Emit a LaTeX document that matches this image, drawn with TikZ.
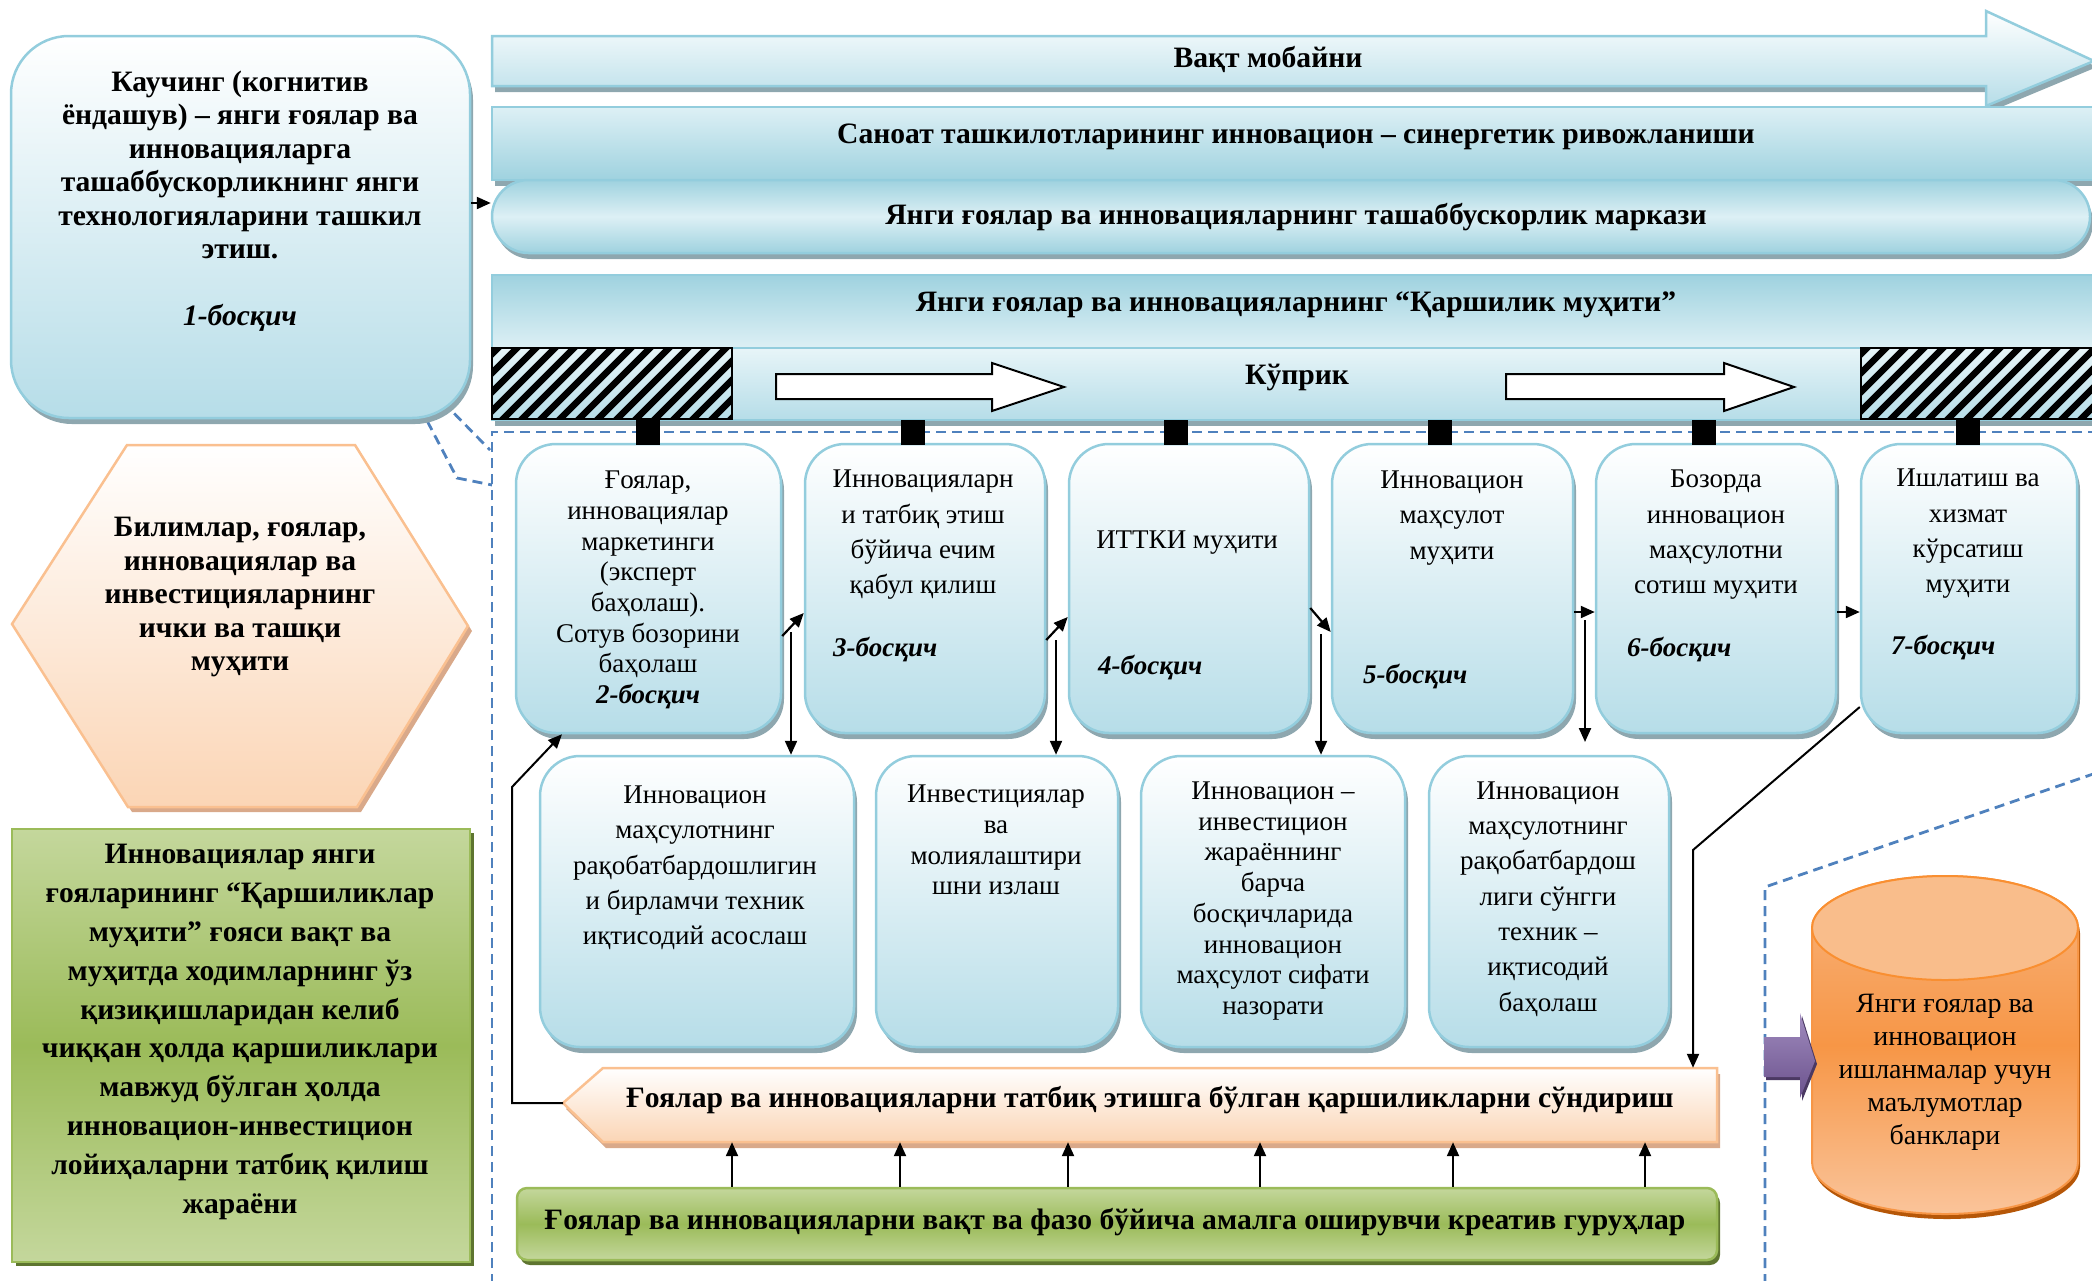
\documentclass[tikz,border=0pt]{standalone}
\usepackage{fontspec}
\setmainfont{Liberation Serif}
\usetikzlibrary{arrows.meta,shadows,shapes.misc,calc}
\definecolor{bdr}{HTML}{93CDDD}
\definecolor{bbot}{HTML}{B6DDE8}
\definecolor{bdark}{HTML}{9FD2DF}
\definecolor{blite}{HTML}{DDF0F5}
\definecolor{shd}{HTML}{8EA7AF}
\definecolor{dashb}{HTML}{4F81BD}
\definecolor{orb}{HTML}{FAC090}
\definecolor{orl}{HTML}{FBD5B5}
\definecolor{orshd}{HTML}{D9A98A}
\definecolor{grl}{HTML}{C4D79C}
\definecolor{grm}{HTML}{9BBB59}
\definecolor{grd}{HTML}{5E7530}
\definecolor{cyltop}{HTML}{F9BD8B}
\definecolor{cylmid}{HTML}{F79646}
\definecolor{cylhi}{HTML}{F8B47E}
\definecolor{cyllo}{HTML}{FAC49A}
\definecolor{cylshd}{HTML}{B65708}
\definecolor{purl}{HTML}{A08BBE}
\definecolor{purd}{HTML}{6B528D}
\newcommand\FBold{\fontsize{29.6}{33.5}\selectfont\bfseries}
\newcommand\FBoldW{\fontsize{29.6}{38.8}\selectfont\bfseries}
\newcommand\FRegA{\fontsize{27}{30.7}\selectfont}
\newcommand\FRegB{\fontsize{27}{35.3}\selectfont}
\newcommand\FStage{\fontsize{27}{30}\selectfont\bfseries\itshape}
\newcommand\FCyl{\fontsize{28}{33}\selectfont}
\begin{document}
\begin{tikzpicture}[x=1pt,y=-1pt,
  bshadow/.style={drop shadow={shadow xshift=3pt,shadow yshift=-6pt,fill=shd,opacity=1}},
  stagebox/.style={draw=bdr,line width=2.5pt,rounded corners=40pt,top color=white,bottom color=bbot,bshadow,inner sep=0pt},
  band/.style={draw=bdr,line width=2.5pt,inner sep=0pt},
  arr/.style={line width=2.2pt,-{Triangle[length=14pt,width=12pt]}},
  dsh/.style={draw=dashb,line width=2.8pt,dash pattern=on 10pt off 6pt},
  txt/.style={align=center,inner sep=0pt,text=black}
]
\useasboundingbox (0,0) rectangle (2092,1280);

% ---------- top bands ----------
\path[band,top color=white,bottom color=bbot,bshadow]
  (492,36) -- (1986,36) -- (1986,11) -- (2094,61) -- (1986,106) -- (1986,86) -- (492,86) -- cycle;
\node[txt,font=\FBold] (tvakt) at (1268,59) {Вақт мобайни};

\node[band,rectangle,top color=blite,bottom color=bdark,bshadow,minimum width=1610pt,minimum height=73pt] (san) at (1297,143.5) {};
\node[txt,font=\FBold] (tsan) at (1296,137) {Саноат ташкилотларининг инновацион – синергетик ривожланиши};

\node[band,rounded rectangle,top color=bdark,bottom color=bdark,middle color=blite,bshadow,minimum width=1598pt,minimum height=73pt] (pill) at (1291,216.5) {};
\node[txt,font=\FBold] (tpill) at (1296,217) {Янги ғоялар ва инновацияларнинг ташаббускорлик маркази};

\path[bshadow,fill=white] (492,275) rectangle (2102,420);
\path[band,top color=bdark,bottom color=blite] (492,275) rectangle (2102,348);
\path[band,top color=blite!70!white,bottom color=bbot] (492,348) rectangle (2102,420);
\node[txt,font=\FBold] (tqar) at (1296,305) {Янги ғоялар ва инновацияларнинг “Қаршилик муҳити”};
\node[txt,font=\FBold] (tkup) at (1297,377) {Кўприк};

% hatched blocks
\begin{scope}
  \clip (492,348) rectangle (732,419);
  \foreach \i in {0,...,18} \draw[line width=6.5pt] ({402+\i*19},425) -- ++(90,-90);
\end{scope}
\draw[line width=2pt] (492,348) rectangle (732,419);
\begin{scope}
  \clip (1861,348) rectangle (2102,419);
  \foreach \i in {0,...,18} \draw[line width=6.5pt] ({1771+\i*19},425) -- ++(90,-90);
\end{scope}
\draw[line width=2pt] (1861,348) rectangle (2102,419);

% white block arrows
\path[draw=black,fill=white,line width=2pt] (776,374) -- (992,374) -- (992,363) -- (1064,387) -- (992,411) -- (992,399) -- (776,399) -- cycle;
\path[draw=black,fill=white,line width=2pt] (1506,374) -- (1724,374) -- (1724,363) -- (1794,387) -- (1724,411) -- (1724,399) -- (1506,399) -- cycle;

% ---------- dashed frames ----------
\draw[dsh] (492,1284) -- (492,432) -- (2096,432);
\draw[dsh] (1765,1284) -- (1765,887) -- (2096,773);
\draw[dsh] (443,402) -- (490,450);
\draw[dsh] (443,402) -- (423,413) -- (457,478) -- (492,485);

% ---------- left column ----------
\node[stagebox,rounded corners=58pt,minimum width=459pt,minimum height=382pt] (k1) at (240.5,227) {};
\node[txt,font=\FBold] (tk1) at (240,201) {Каучинг (когнитив\\ёндашув) – янги ғоялар ва\\инновацияларга\\ташаббускорликнинг янги\\технологияларини ташкил\\этиш.\\[33.5pt]\textit{1-босқич}};

\path[draw=orb,line width=2.5pt,top color=white,bottom color=orl,drop shadow={shadow xshift=4pt,shadow yshift=-5pt,fill=orshd,opacity=1}]
  (12,624) -- (127,445) -- (355,445) -- (468,626) -- (357,807) -- (128,807) -- cycle;
\node[txt,font=\FBold] (thex) at (240,597) {Билимлар, ғоялар,\\инновациялар ва\\инвестицияларнинг\\ички ва ташқи\\муҳити};

\node[draw=grm,line width=2.5pt,top color=grl,bottom color=grl,middle color=grm,drop shadow={shadow xshift=4pt,shadow yshift=-4pt,fill=grd,opacity=1},minimum width=458pt,minimum height=433pt,inner sep=0pt] (gbox) at (241,1045.5) {};
\node[txt,font=\FBoldW] (tgbox) at (240,1032) {Инновациялар янги\\ғояларининг “Қаршиликлар\\муҳити” ғояси вақт ва\\муҳитда ходимларнинг ўз\\қизиқишларидан келиб\\чиққан ҳолда қаршиликлари\\мавжуд бўлган ҳолда\\инновацион-инвестицион\\лойиҳаларни татбиқ қилиш\\жараёни};

% ---------- stage boxes, row 1 ----------
\node[stagebox,minimum width=265pt,minimum height=289pt] (b2) at (648.5,588.5) {};
\node[stagebox,minimum width=240pt,minimum height=289pt] (b3) at (925,588.5) {};
\node[stagebox,minimum width=240pt,minimum height=289pt] (b4) at (1189,588.5) {};
\node[stagebox,minimum width=241pt,minimum height=289pt] (b5) at (1452.5,588.5) {};
\node[stagebox,minimum width=240pt,minimum height=289pt] (b6) at (1716,588.5) {};
\node[stagebox,minimum width=216pt,minimum height=289pt] (b7) at (1969,588.5) {};

\node[txt,font=\FRegA] (tb2) at (648,590) {Ғоялар,\\инновациялар\\маркетинги\\(эксперт\\баҳолаш).\\Сотув бозорини\\баҳолаш\\\textbf{\textit{2-босқич}}};
\node[txt,font=\FRegB] (tb3) at (923,535) {Инновацияларн\\и татбиқ этиш\\бўйича ечим\\қабул қилиш};
\node[txt,font=\FStage,anchor=west] (sb3) at (833,650) {3-босқич};
\node[txt,font=\FRegB] (tb4) at (1187,543) {ИТТКИ муҳити};
\node[txt,font=\FStage,anchor=west] (sb4) at (1098,668) {4-босқич};
\node[txt,font=\FRegB] (tb5) at (1452,518) {Инновацион\\маҳсулот\\муҳити};
\node[txt,font=\FStage,anchor=west] (sb5) at (1363,677) {5-босқич};
\node[txt,font=\FRegB] (tb6) at (1716,535) {Бозорда\\инновацион\\маҳсулотни\\сотиш муҳити};
\node[txt,font=\FStage,anchor=west] (sb6) at (1627,650) {6-босқич};
\node[txt,font=\FRegB] (tb7) at (1968,534) {Ишлатиш ва\\хизмат\\кўрсатиш\\муҳити};
\node[txt,font=\FStage,anchor=west] (sb7) at (1891,648) {7-босқич};

% connector squares
\foreach \x in {648,913,1176,1440,1704,1968} \fill[black] (\x-12,420) rectangle (\x+12,445);

% ---------- row 2 ----------
\node[stagebox,minimum width=314pt,minimum height=291pt] (c1) at (697,901.5) {};
\node[stagebox,minimum width=242pt,minimum height=291pt] (c2) at (997,901.5) {};
\node[stagebox,minimum width=264pt,minimum height=291pt] (c3) at (1273,901.5) {};
\node[stagebox,minimum width=240pt,minimum height=291pt] (c4) at (1549,901.5) {};
\node[txt,font=\FRegB] (tc1) at (695,868) {Инновацион\\маҳсулотнинг\\рақобатбардошлигин\\и бирламчи техник\\иқтисодий асослаш};
\node[txt,font=\FRegA] (tc2) at (996,840) {Инвестициялар\\ва\\молиялаштири\\шни излаш};
\node[txt,font=\FRegA] (tc3) at (1273,901) {Инновацион –\\инвестицион\\жараённинг\\барча\\босқичларида\\инновацион\\маҳсулот сифати\\назорати};
\node[txt,font=\FRegB] (tc4) at (1548,899) {Инновацион\\маҳсулотнинг\\рақобатбардош\\лиги сўнгги\\техник –\\иқтисодий\\баҳолаш};

% ---------- bottom bars ----------
\path[draw=orb,line width=2.5pt,top color=white,bottom color=orl,drop shadow={shadow xshift=3pt,shadow yshift=-6pt,fill=orshd,opacity=1}]
  (563,1103) -- (603,1068) -- (1717,1068) -- (1717,1142) -- (603,1142) -- cycle;
\coordinate (ptip) at (563,1103);
\node[minimum width=1114pt,minimum height=74pt,inner sep=0pt] (pent) at (1160,1105) {};
\node[txt,font=\FBold] (tpent) at (1150,1100) {Ғоялар ва инновацияларни татбиқ этишга бўлган қаршиликларни сўндириш};

\node[draw=grm,line width=2.5pt,rounded corners=10pt,top color=grl,bottom color=grl,middle color=grm,drop shadow={shadow xshift=3pt,shadow yshift=-5pt,fill=grd,opacity=1},minimum width=1200pt,minimum height=72pt,inner sep=0pt] (gbar) at (1117,1224) {};
\node[txt,font=\FBold] (tgbar) at (1115,1222) {Ғоялар ва инновацияларни вақт ва фазо бўйича амалга оширувчи креатив гуруҳлар};

% ---------- cylinder ----------
\path[draw=cylmid,line width=2pt,top color=cylhi,bottom color=cyllo,middle color=cylmid,drop shadow={shadow xshift=2pt,shadow yshift=-5pt,fill=cylshd,opacity=1}]
  (1812,928) -- (1812,1162) arc[start angle=180,end angle=360,x radius=133pt,y radius=52pt]
  -- (2078,928) arc[start angle=0,end angle=180,x radius=133pt,y radius=52pt] -- cycle;
\path[draw=cylmid!70!orange,line width=2pt,fill=cyltop] (1945,928) ellipse[x radius=133pt,y radius=52pt];
\node[txt,font=\FCyl] (tcyl) at (1945,1072) {Янги ғоялар ва\\инновацион\\ишланмалар учун\\маълумотлар\\банклари};

% purple arrow
\path[top color=purl,bottom color=purd,drop shadow={shadow xshift=2pt,shadow yshift=-3pt,fill=purd!70!black,opacity=1}]
  (1764,1037) -- (1800,1037) -- (1800,1013) -- (1815,1061) -- (1800,1098) -- (1800,1077) -- (1764,1077) -- cycle;

% ---------- connectors ----------
\draw[arr] (k1.east |- 0,203) -- (pill.west |- 0,203);
\draw[arr] (b2.east |- 0,636) -- (b3.west |- 0,613);
\draw[arr] (791,632) -- (791,0 |- c1.north);
\draw[arr] (b3.east |- 0,640) -- (b4.west |- 0,617);
\draw[arr] (1056,640) -- (1056,0 |- c2.north);
\draw[arr] (b4.east |- 0,608) -- (b5.west |- 0,632);
\draw[arr] (1321,634) -- (1321,0 |- c3.north);
\draw[arr] (b5.east |- 0,612) -- (b6.west |- 0,612);
\draw[arr] (1585,620) -- (1585,742);
\draw[arr] (b6.east |- 0,612) -- (b7.west |- 0,612);
\draw[arr,line width=2pt] (b7.west |- 0,707) -- (1693,850) -- (1693,0 |- pent.north);
\draw[arr,line width=2pt] (ptip) -- (512,1103) -- (512,787) -- (b2.south -| 562,0);
\foreach \x in {732,900,1068,1260,1453,1645} \draw[arr] (\x,0 |- gbar.north) -- (\x,0 |- pent.south);
\end{tikzpicture}
\end{document}
